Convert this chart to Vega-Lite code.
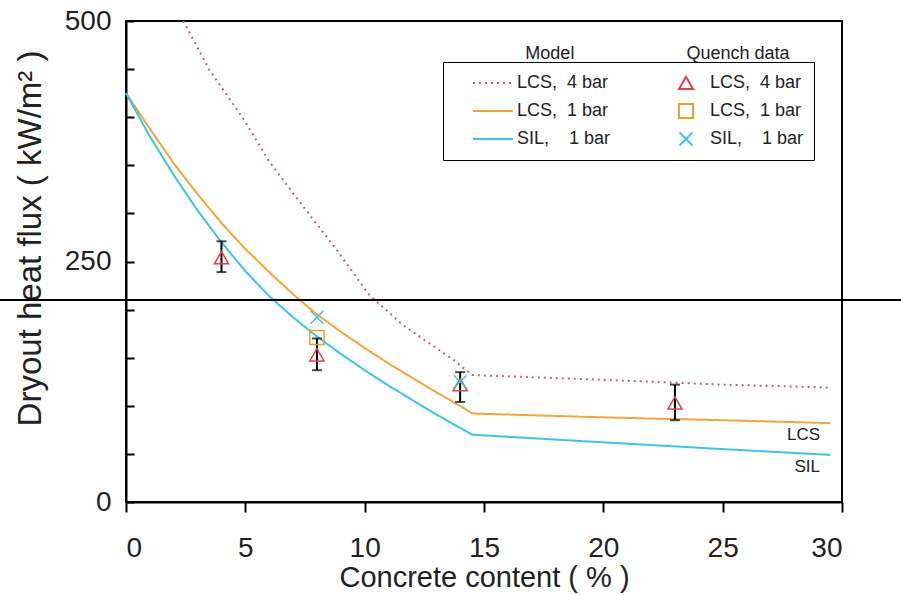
{
  "$schema": "https://vega.github.io/schema/vega-lite/v6.json",
  "width": 716,
  "height": 481,
  "autosize": "none",
  "padding": {"left": 126, "top": 21, "right": 59, "bottom": 93},
  "background": "white",
  "config": {
    "font": "Liberation Sans",
    "view": {"stroke": "black", "strokeWidth": 2}
  },
  "datasets": {
    "lines": [
      {"series": "LCS,\u00a0\u00a04 bar|m", "x": 2.4, "y": 500},
      {"series": "LCS,\u00a0\u00a04 bar|m", "x": 3.5, "y": 449},
      {"series": "LCS,\u00a0\u00a04 bar|m", "x": 4.9, "y": 399},
      {"series": "LCS,\u00a0\u00a04 bar|m", "x": 6.0, "y": 354},
      {"series": "LCS,\u00a0\u00a04 bar|m", "x": 7.4, "y": 308},
      {"series": "LCS,\u00a0\u00a04 bar|m", "x": 8.8, "y": 263},
      {"series": "LCS,\u00a0\u00a04 bar|m", "x": 10.2, "y": 215},
      {"series": "LCS,\u00a0\u00a04 bar|m", "x": 11.6, "y": 184},
      {"series": "LCS,\u00a0\u00a04 bar|m", "x": 13.0, "y": 160},
      {"series": "LCS,\u00a0\u00a04 bar|m", "x": 13.7, "y": 148},
      {"series": "LCS,\u00a0\u00a04 bar|m", "x": 14.5, "y": 132},
      {"series": "LCS,\u00a0\u00a04 bar|m", "x": 20, "y": 127},
      {"series": "LCS,\u00a0\u00a04 bar|m", "x": 25, "y": 122},
      {"series": "LCS,\u00a0\u00a04 bar|m", "x": 29.5, "y": 119},
      {"series": "LCS,\u00a0\u00a01 bar|m", "x": 0, "y": 425},
      {"series": "LCS,\u00a0\u00a01 bar|m", "x": 1, "y": 388},
      {"series": "LCS,\u00a0\u00a01 bar|m", "x": 2, "y": 352},
      {"series": "LCS,\u00a0\u00a01 bar|m", "x": 3, "y": 320},
      {"series": "LCS,\u00a0\u00a01 bar|m", "x": 4, "y": 290},
      {"series": "LCS,\u00a0\u00a01 bar|m", "x": 5, "y": 263},
      {"series": "LCS,\u00a0\u00a01 bar|m", "x": 6, "y": 239},
      {"series": "LCS,\u00a0\u00a01 bar|m", "x": 7, "y": 216},
      {"series": "LCS,\u00a0\u00a01 bar|m", "x": 8, "y": 195},
      {"series": "LCS,\u00a0\u00a01 bar|m", "x": 9, "y": 177},
      {"series": "LCS,\u00a0\u00a01 bar|m", "x": 10, "y": 160},
      {"series": "LCS,\u00a0\u00a01 bar|m", "x": 11, "y": 144},
      {"series": "LCS,\u00a0\u00a01 bar|m", "x": 12, "y": 129},
      {"series": "LCS,\u00a0\u00a01 bar|m", "x": 13, "y": 114},
      {"series": "LCS,\u00a0\u00a01 bar|m", "x": 14, "y": 100},
      {"series": "LCS,\u00a0\u00a01 bar|m", "x": 14.5, "y": 92},
      {"series": "LCS,\u00a0\u00a01 bar|m", "x": 20, "y": 88},
      {"series": "LCS,\u00a0\u00a01 bar|m", "x": 25, "y": 85},
      {"series": "LCS,\u00a0\u00a01 bar|m", "x": 29.5, "y": 82, "end": "LCS"},
      {"series": "SIL,\u00a0\u00a0\u00a0\u00a01 bar|m", "x": 0, "y": 425},
      {"series": "SIL,\u00a0\u00a0\u00a0\u00a01 bar|m", "x": 1, "y": 380},
      {"series": "SIL,\u00a0\u00a0\u00a0\u00a01 bar|m", "x": 2, "y": 340},
      {"series": "SIL,\u00a0\u00a0\u00a0\u00a01 bar|m", "x": 3, "y": 303},
      {"series": "SIL,\u00a0\u00a0\u00a0\u00a01 bar|m", "x": 4, "y": 270},
      {"series": "SIL,\u00a0\u00a0\u00a0\u00a01 bar|m", "x": 5, "y": 240},
      {"series": "SIL,\u00a0\u00a0\u00a0\u00a01 bar|m", "x": 6, "y": 214},
      {"series": "SIL,\u00a0\u00a0\u00a0\u00a01 bar|m", "x": 7, "y": 192},
      {"series": "SIL,\u00a0\u00a0\u00a0\u00a01 bar|m", "x": 8, "y": 172},
      {"series": "SIL,\u00a0\u00a0\u00a0\u00a01 bar|m", "x": 9, "y": 154},
      {"series": "SIL,\u00a0\u00a0\u00a0\u00a01 bar|m", "x": 10, "y": 137},
      {"series": "SIL,\u00a0\u00a0\u00a0\u00a01 bar|m", "x": 11, "y": 121},
      {"series": "SIL,\u00a0\u00a0\u00a0\u00a01 bar|m", "x": 12, "y": 106},
      {"series": "SIL,\u00a0\u00a0\u00a0\u00a01 bar|m", "x": 13, "y": 91},
      {"series": "SIL,\u00a0\u00a0\u00a0\u00a01 bar|m", "x": 14, "y": 77},
      {"series": "SIL,\u00a0\u00a0\u00a0\u00a01 bar|m", "x": 14.5, "y": 70},
      {"series": "SIL,\u00a0\u00a0\u00a0\u00a01 bar|m", "x": 20, "y": 62},
      {"series": "SIL,\u00a0\u00a0\u00a0\u00a01 bar|m", "x": 25, "y": 55},
      {"series": "SIL,\u00a0\u00a0\u00a0\u00a01 bar|m", "x": 29.5, "y": 49, "end": "SIL"}
    ],
    "quench": [
      {"series": "LCS,\u00a0\u00a04 bar|q", "x": 4, "y": 254},
      {"series": "LCS,\u00a0\u00a04 bar|q", "x": 8, "y": 153},
      {"series": "LCS,\u00a0\u00a04 bar|q", "x": 14, "y": 122},
      {"series": "LCS,\u00a0\u00a04 bar|q", "x": 23, "y": 103},
      {"series": "LCS,\u00a0\u00a01 bar|q", "x": 8, "y": 171},
      {"series": "SIL,\u00a0\u00a0\u00a0\u00a01 bar|q", "x": 8, "y": 192},
      {"series": "SIL,\u00a0\u00a0\u00a0\u00a01 bar|q", "x": 14, "y": 125}
    ],
    "errs": [
      {"x": 4, "lo": 239, "hi": 271},
      {"x": 8, "lo": 137, "hi": 170},
      {"x": 14, "lo": 104, "hi": 135},
      {"x": 23, "lo": 85, "hi": 122}
    ]
  },
  "layer": [
    {
      "data": {"name": "lines"},
      "mark": {"type": "line", "strokeWidth": 2},
      "encoding": {
        "x": {
          "field": "x", "type": "quantitative",
          "scale": {"domain": [0, 30], "nice": false, "zero": false},
          "axis": {
            "title": "Concrete content  ( % )",
            "values": [0, 5, 10, 15, 20, 25, 30],
            "grid": false,
            "domainColor": "black", "domainWidth": 2,
            "tickColor": "black", "tickWidth": 2, "tickSize": 10,
            "labelFontSize": 28, "labelColor": "#222", "labelPadding": 22,
            "titleFontSize": 29, "titleFontWeight": "normal", "titleColor": "#222",
            "titleY": 75, "titleBaseline": "middle"
          }
        },
        "y": {
          "field": "y", "type": "quantitative",
          "scale": {"domain": [0, 500], "nice": false},
          "axis": {
            "title": "Dryout heat flux  ( kW/m\u00b2 )",
            "values": [0, 50, 100, 150, 200, 250, 300, 350, 400, 450, 500],
            "labelExpr": "datum.value % 250 === 0 ? datum.label : ''",
            "grid": false,
            "domainColor": "black", "domainWidth": 2,
            "tickColor": "black", "tickWidth": 2, "tickSize": -8,
            "labelFontSize": 28, "labelColor": "#222", "labelPadding": 23,
            "titleFontSize": 33, "titleFontWeight": "normal", "titleColor": "#222",
            "titleX": -96, "titleY": 217, "titleBaseline": "middle"
          }
        },
        "color": {
          "field": "series", "type": "nominal",
          "scale": {
            "domain": ["LCS,\u00a0\u00a04 bar|m", "LCS,\u00a0\u00a01 bar|m", "SIL,\u00a0\u00a0\u00a0\u00a01 bar|m", "LCS,\u00a0\u00a04 bar|q", "LCS,\u00a0\u00a01 bar|q", "SIL,\u00a0\u00a0\u00a0\u00a01 bar|q"],
            "range": ["#d05a78", "#f4a43a", "#3cc3e6", "#e0404c", "#e8a028", "#3cc3e6"]
          },
          "legend": {
            "title": null,
            "orient": "none", "legendX": 317, "legendY": 41,
            "columns": 2, "columnPadding": 35, "rowPadding": 6,
            "gridAlign": "all", "clipHeight": 22,
            "strokeColor": "black", "padding": 10,
            "labelFontSize": 18, "labelColor": "#222", "labelOffset": 3,
            "symbolOffset": 19,
            "labelExpr": "split(datum.value, '|')[0]",
            "symbolSize": 1600, "symbolStrokeWidth": 2
          }
        },
        "strokeDash": {
          "field": "series", "type": "nominal",
          "scale": {
            "domain": ["LCS,\u00a0\u00a04 bar|m", "LCS,\u00a0\u00a01 bar|m", "SIL,\u00a0\u00a0\u00a0\u00a01 bar|m", "LCS,\u00a0\u00a04 bar|q", "LCS,\u00a0\u00a01 bar|q", "SIL,\u00a0\u00a0\u00a0\u00a01 bar|q"],
            "range": [[2, 4], [1, 0], [1, 0], [1, 0], [1, 0], [1, 0]]
          }
        }
      }
    },
    {
      "data": {"name": "errs"},
      "mark": {"type": "rule", "color": "black", "strokeWidth": 2},
      "encoding": {
        "x": {"field": "x", "type": "quantitative"},
        "y": {"field": "lo", "type": "quantitative"},
        "y2": {"field": "hi"}
      }
    },
    {
      "data": {"name": "errs"},
      "mark": {"type": "tick", "color": "black", "orient": "horizontal", "size": 10, "thickness": 2},
      "encoding": {
        "x": {"field": "x", "type": "quantitative"},
        "y": {"field": "lo", "type": "quantitative"}
      }
    },
    {
      "data": {"name": "errs"},
      "mark": {"type": "tick", "color": "black", "orient": "horizontal", "size": 10, "thickness": 2},
      "encoding": {
        "x": {"field": "x", "type": "quantitative"},
        "y": {"field": "hi", "type": "quantitative"}
      }
    },
    {
      "data": {"name": "quench"},
      "mark": {"type": "point", "filled": false, "strokeWidth": 1.5, "opacity": 1},
      "encoding": {
        "x": {"field": "x", "type": "quantitative"},
        "y": {"field": "y", "type": "quantitative"},
        "color": {"field": "series", "type": "nominal"},
        "shape": {
          "field": "series", "type": "nominal",
          "scale": {
            "domain": ["LCS,\u00a0\u00a04 bar|m", "LCS,\u00a0\u00a01 bar|m", "SIL,\u00a0\u00a0\u00a0\u00a01 bar|m", "LCS,\u00a0\u00a04 bar|q", "LCS,\u00a0\u00a01 bar|q", "SIL,\u00a0\u00a0\u00a0\u00a01 bar|q"],
            "range": ["stroke", "stroke", "stroke", "triangle-up", "square", "M-1,-1L1,1M-1,1L1,-1"]
          }
        },
        "size": {
          "field": "series", "type": "nominal",
          "scale": {
            "type": "ordinal",
            "domain": ["LCS,\u00a0\u00a04 bar|m", "LCS,\u00a0\u00a01 bar|m", "SIL,\u00a0\u00a0\u00a0\u00a01 bar|m", "LCS,\u00a0\u00a04 bar|q", "LCS,\u00a0\u00a01 bar|q", "SIL,\u00a0\u00a0\u00a0\u00a01 bar|q"],
            "range": [1600, 1600, 1600, 200, 200, 170]
          }
        }
      }
    },
    {
      "data": {"name": "lines"},
      "transform": [{"filter": "datum.end != null"}],
      "mark": {"type": "text", "align": "right", "baseline": "top", "dx": -10, "dy": 4, "fontSize": 17, "color": "#222"},
      "encoding": {
        "x": {"field": "x", "type": "quantitative"},
        "y": {"field": "y", "type": "quantitative"},
        "text": {"field": "end"}
      }
    },
    {
      "data": {"values": [{}]},
      "mark": {"type": "text", "fontSize": 18, "color": "#222", "baseline": "middle", "align": "center"},
      "encoding": {
        "x": {"datum": 17.76, "type": "quantitative"},
        "y": {"datum": 466, "type": "quantitative"},
        "text": {"value": "Model"}
      }
    },
    {
      "data": {"values": [{}]},
      "mark": {"type": "text", "fontSize": 18, "color": "#222", "baseline": "middle", "align": "center"},
      "encoding": {
        "x": {"datum": 25.64, "type": "quantitative"},
        "y": {"datum": 466, "type": "quantitative"},
        "text": {"value": "Quench data"}
      }
    },
    {
      "data": {"values": [{}]},
      "mark": {"type": "rule", "color": "black", "strokeWidth": 2, "clip": false},
      "encoding": {
        "x": {"datum": -5.3, "type": "quantitative"},
        "x2": {"datum": 32.5},
        "y": {"datum": 210, "type": "quantitative"}
      }
    }
  ]
}
